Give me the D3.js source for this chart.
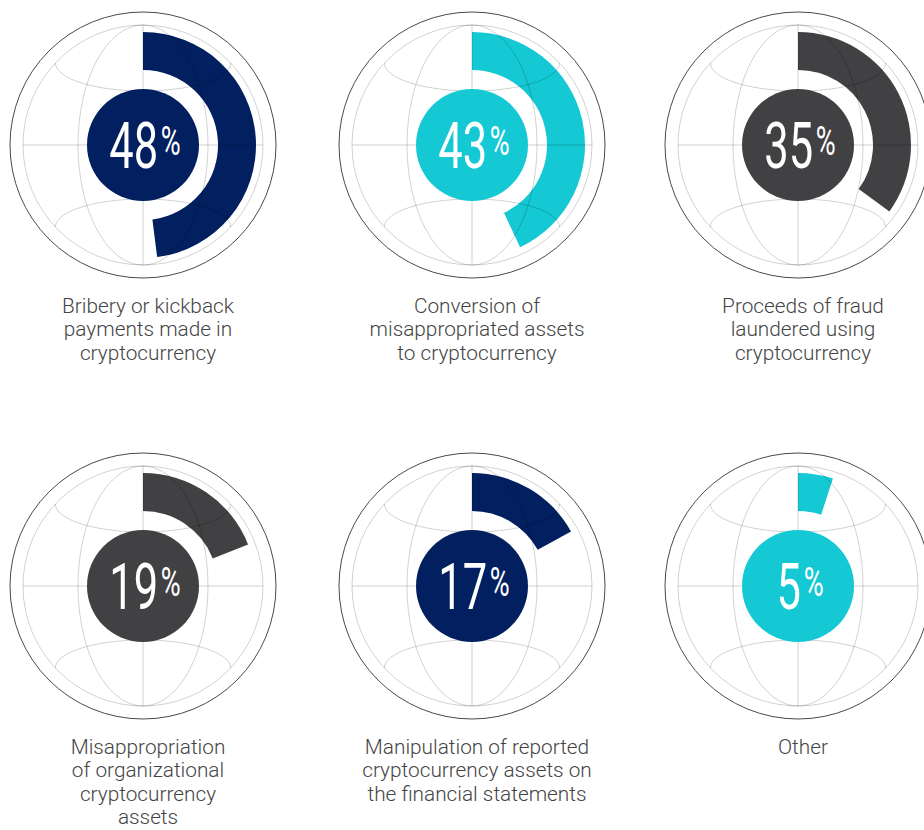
<!DOCTYPE html>
<html>
<head>
<meta charset="utf-8">
<script src="https://cdn.jsdelivr.net/npm/d3@7"></script>
<style>
  body { margin: 0; background: #fff; }
  svg { display: block; }
</style>
</head>
<body>
<svg width="924" height="830"></svg>
<script>
// data
var categories = [
    ["Bribery or kickback", "payments made in", "cryptocurrency"],
    ["Conversion of", "misappropriated assets", "to cryptocurrency"],
    ["Proceeds of fraud", "laundered using", "cryptocurrency"],
    ["Misappropriation", "of organizational", "cryptocurrency", "assets"],
    ["Manipulation of reported", "cryptocurrency assets on", "the financial statements"],
    ["Other"]
];
var values = [48, 43, 35, 19, 17, 5];
var colors = ["#021f5f", "#14c8d4", "#414042", "#414042", "#021f5f", "#14c8d4"];

var svg = d3.select("svg");

var colX = [143, 472, 798],
    rowY = [145, 586];

var outerR = 133,
    globeR = 120,
    arcOuter = 113,
    arcInner = 75,
    dotR = 56;

var angle = d3.scaleLinear().domain([0, 100]).range([0, 2 * Math.PI]);

var arc = d3.arc()
    .innerRadius(arcInner)
    .outerRadius(arcOuter)
    .startAngle(0)
    .endAngle(function(d) { return angle(d); });

var items = values.map(function(v, i) {
    return { value: v, label: categories[i], color: colors[i],
             x: colX[i % 3], y: rowY[Math.floor(i / 3)] };
});

var g = svg.selectAll(".globe")
    .data(items)
    .enter().append("g")
    .attr("class", "globe")
    .attr("transform", d => "translate(" + d.x + "," + d.y + ")");

// outer ring
g.append("circle")
    .attr("r", outerR)
    .attr("fill", "none")
    .attr("stroke", "#4a4a4a")
    .attr("stroke-width", 1);

// value arc
g.append("path")
    .attr("d", d => arc(d.value))
    .attr("fill", d => d.color);

// globe grid lines, drawn over the arc
var latY = 82,
    latX = Math.sqrt(globeR * globeR - latY * latY),
    latRy = 28;

var ts = d3.range(0, 41).map(t => Math.PI * t / 40);
var line = d3.line();

// upper latitude dips down, lower one bulges up
var upper = line(ts.map(t => [-latX * Math.cos(t), -latY + latRy * Math.sin(t)]));
var lower = line(ts.map(t => [-latX * Math.cos(t), latY - latRy * Math.sin(t)]));

var grid = g.append("g")
    .attr("fill", "none")
    .attr("stroke", "#000")
    .attr("stroke-opacity", 0.18)
    .attr("stroke-width", 1);

grid.append("circle").attr("r", globeR);
grid.append("ellipse").attr("rx", 65).attr("ry", globeR);
grid.append("line").attr("x1", -globeR).attr("x2", globeR);
grid.append("line").attr("y1", -globeR).attr("y2", globeR);
grid.append("path").attr("d", upper);
grid.append("path").attr("d", lower);

// centre dot
g.append("circle")
    .attr("r", dotR)
    .attr("fill", d => d.color);

// percentage text
var num = g.append("text")
    .attr("transform", "translate(2,23) scale(0.68,1)")
    .attr("text-anchor", "middle")
    .attr("fill", "#fff")
    .style("font-family", "Roboto")
    .style("font-weight", 400);

num.append("tspan")
    .style("font-size", "64px")
    .text(d => d.value);

num.append("tspan")
    .style("font-size", "40px")
    .attr("dx", 4)
    .attr("dy", -13)
    .text("%");

// labels
g.append("text")
    .attr("transform", "translate(5,0) scale(1.04,1)")
    .attr("text-anchor", "middle")
    .attr("fill", "#444")
    .style("font-family", "Roboto")
    .style("font-weight", 300)
    .style("font-size", "20px")
    .selectAll("tspan")
    .data(d => d.label)
    .enter().append("tspan")
    .attr("x", 0)
    .attr("y", (d, i) => 168 + i * 23.5)
    .text(d => d);
</script>
</body>
</html>
